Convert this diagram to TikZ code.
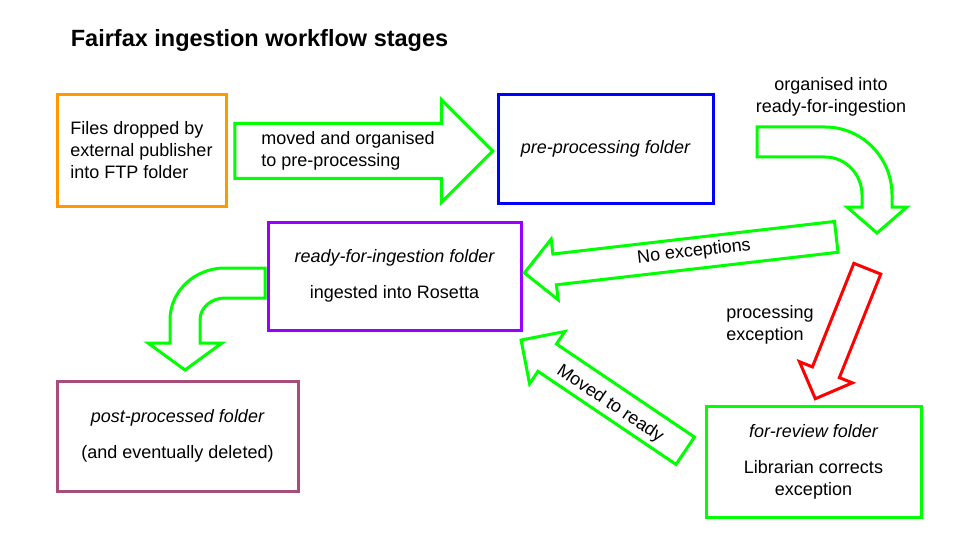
\documentclass[tikz,border=0pt]{standalone}
\usepackage{fontspec}
\setmainfont{Liberation Sans}
\usetikzlibrary{shapes.arrows}
\definecolor{ftporange}{HTML}{FF9900}
\definecolor{preblue}{HTML}{0000FF}
\definecolor{readypurple}{HTML}{9900FF}
\definecolor{flowgreen}{HTML}{00FF00}
\definecolor{postplum}{HTML}{A64D79}
\begin{document}
\begin{tikzpicture}[
                        x = 1pt,
                        y = -1pt,
                        line width = 3pt,
                        font = \fontsize{18}{22}\selectfont
                        ]

                        \tikzstyle{stage}=[
                                draw,
                                rectangle,
                                align = left,
                                fill = white
                        ]
                        \tikzstyle{block}=[
                                draw = flowgreen,
                                single arrow,
                                fill = white,
                                inner xsep = 0pt
                        ]

                        \useasboundingbox (0,0) rectangle (960,540);

                        \node[anchor=west, font=\fontsize{23.5}{28}\selectfont\bfseries] (title) at (66,40) {Fairfax ingestion workflow stages};

                        \node[stage, draw=ftporange, minimum width=169, minimum height=111] (ftp) at (141.5,150.5) {Files dropped by\\external publisher\\into FTP folder};
                        \node[stage, draw=preblue, minimum width=215, minimum height=108] (pre) at (605.5,149) {\itshape pre-processing folder};
                        \node[stage, draw=readypurple, align=center, minimum width=253, minimum height=108] (ready) at (394.5,276) {\itshape ready-for-ingestion folder\\[14pt]ingested into Rosetta};
                        \node[stage, draw=flowgreen, align=center, minimum width=215, minimum height=111] (review) at (813.5,461.5) {\itshape for-review folder\\[14pt]Librarian corrects\\exception};
                        \node[stage, draw=postplum, align=center, minimum width=241, minimum height=110] (post) at (177.5,436) {\itshape post-processed folder\\[14pt](and eventually deleted)};

                        % straight block arrows
                        \node[block, minimum height=258, inner ysep=26, single arrow head extend=24] (moved) at (350,151) {};
                        \node[align=left] (movedtext) at (348,151) {moved and organised\\to pre-processing};
                        \node[block, rotate=186.6, minimum height=314, inner ysep=14, single arrow head extend=15] (noexc) at (688,254) {};
                        \node[rotate=6.6] (noexctext) at (694,252) {No exceptions};
                        \node[block, draw=red, rotate=248.2, minimum height=140, inner ysep=13, single arrow head extend=14] (exc) at (844,327) {};
                        \node[align=left] (exctext) at (770,325) {processing\\exception};
                        \node[block, rotate=146, minimum height=198, inner ysep=15, single arrow head extend=15] (toready) at (610,400) {};
                        \node[rotate=-34] (toreadytext) at (610,404) {Moved to ready};

                        % curved block arrows
                        \draw[flowgreen, fill=white] (757,127) -- (825,127) to[out=0,in=90] (892,195) -- (892,207) -- (907,207) -- (877,233) -- (847,207) -- (862,207) -- (862,195) to[out=90,in=0] (825,157) -- (757,157) -- cycle;
                        \node[align=center] (orgtext) at (831,97) {organised into\\ready-for-ingestion};
                        \draw[flowgreen, fill=white] (265,268) -- (225,268) to[out=180,in=90] (170,320) -- (170,343) -- (148,343) -- (185,370) -- (222,343) -- (200,343) -- (200,320) to[out=90,in=180] (225,298) -- (265,298) -- cycle;
                \end{tikzpicture}
\end{document}
